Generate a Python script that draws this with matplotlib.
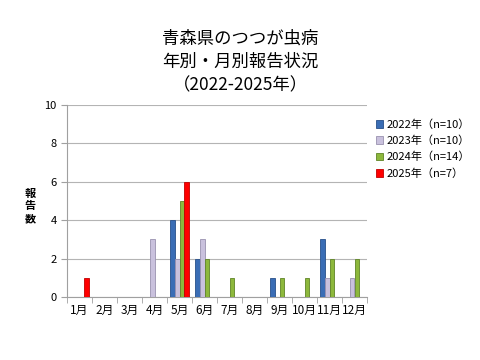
import numpy as np
import matplotlib
matplotlib.use("Agg")
import matplotlib.pyplot as plt

plt.rcParams['font.family'] = ['Noto Sans CJK JP', 'DejaVu Sans']

months = ["1月", "2月", "3月", "4月", "5月", "6月",
          "7月", "8月", "9月", "10月", "11月", "12月"]

series_names = ["2022年（n=10）", "2023年（n=10）", "2024年（n=14）", "2025年（n=7）"]
counts_2022 = [0, 0, 0, 0, 4, 2, 0, 0, 1, 0, 3, 0]
counts_2023 = [0, 0, 0, 3, 2, 3, 0, 0, 0, 0, 1, 1]
counts_2024 = [0, 0, 0, 0, 5, 2, 1, 0, 1, 1, 2, 2]
counts_2025 = [1, 0, 0, 0, 6, 0, 0, 0, 0, 0, 0, 0]

colors = ["#3a6db5", "#c9c1dd", "#8db83c", "#ff0000"]
edges = ["#28508a", "#9a92b0", "#5f8426", "#c00000"]

fig = plt.figure(figsize=(4.8, 3.6), dpi=100)
ax = fig.add_axes([67 / 480, 63 / 360, 300 / 480, 192 / 360])

x = np.arange(len(months))
w = 0.19
all_counts = [counts_2022, counts_2023, counts_2024, counts_2025]
for i, vals in enumerate(all_counts):
    vals = np.array(vals, dtype=float)
    # zero values are not drawn
    mask = vals > 0
    ax.bar(x[mask] + (i - 1.5) * w, vals[mask], width=w,
           color=colors[i], edgecolor=edges[i], linewidth=0.6,
           label=series_names[i], zorder=3)

ax.set_xlim(-0.5, 11.5)
ax.set_ylim(0, 10)
ax.set_yticks(range(0, 11, 2))
ax.set_xticks(x)
ax.set_xticklabels(months, fontsize=8.5)
ax.set_xticks(np.arange(-0.5, 12, 1), minor=True)
ax.tick_params(axis='x', which='major', length=0, pad=5)
ax.tick_params(axis='x', which='minor', length=4, color="#a0a0a0")
ax.tick_params(axis='y', labelsize=8, length=4, color="#a0a0a0")
ax.grid(axis='y', color="#b4b4b4", linewidth=0.8, zorder=0)
for s in ["top", "right"]:
    ax.spines[s].set_visible(False)
for s in ["left", "bottom"]:
    ax.spines[s].set_color("#a0a0a0")

fig.text(30 / 480, 1 - 206 / 360, "報\n告\n数", fontsize=8, fontweight='bold',
         ha='center', va='center', linespacing=1.0)

fig.text(0.5, 1 - 62 / 360, "青森県のつつが虫病\n年別・月別報告状況\n（2022-2025年）",
         fontsize=12.5, ha='center', va='center', linespacing=1.35)

ax.legend(loc='upper left', bbox_to_anchor=(370 / 480, 1 - 114 / 360),
          bbox_transform=fig.transFigure, frameon=False, fontsize=8,
          handlelength=0.7, handleheight=0.7, handletextpad=0.3,
          labelspacing=0.5, borderpad=0)

fig.savefig("out.png", dpi=100)
